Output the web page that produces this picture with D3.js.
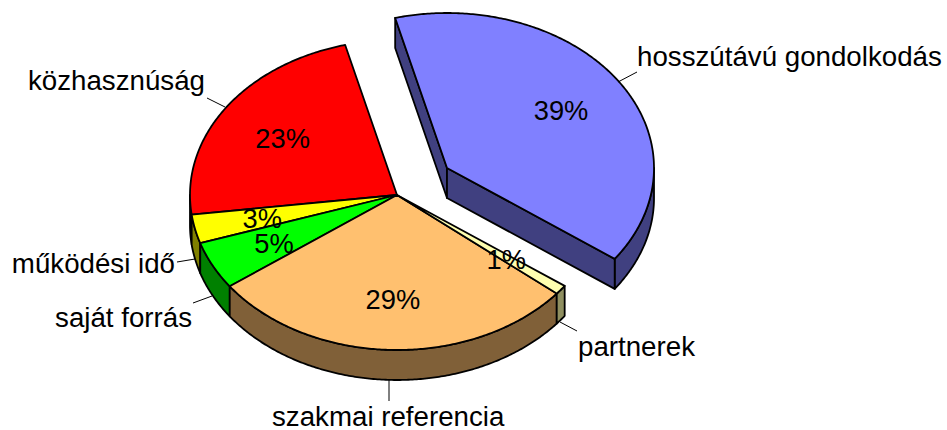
<!DOCTYPE html>
<html><head><meta charset="utf-8">
<script src="https://cdn.jsdelivr.net/npm/d3@7"></script>
<style>html,body{margin:0;padding:0;background:#fff}svg{display:block}text{font-family:"Liberation Sans",Arial,sans-serif;fill:#000}</style>
</head><body><svg id="c" width="947" height="430"></svg>
<script>
const categories = ["hosszútávú gondolkodás","partnerek","szakmai referencia","saját forrás","működési idő","közhasznúság"];
const values = [39,1,29,5,3,23];
const topColors = ["#8080ff","#ffffb0","#ffc06f","#00ff00","#ffff00","#ff0000"];
const sideColors = ["#404080","#8f8f60","#806038","#008000","#808000","#800000"];
const exploded = [true,false,false,false,false,false];
// layout
const cx=397, cy=195, rx=207, ry=155, depth=30, explodeX=50, explodeY=-27;
const labelSize=27.7, pctSize=27.3, startDeg=-14.5;
const labelLayout = [
 {x:637,y:66,anchor:"start",lx:637,ly:72,ex:618,ey:82},
 {x:578,y:356,anchor:"start",lx:577,ly:331,ex:560,ey:322},
 {x:272,y:426,anchor:"start",lx:389,ly:401,ex:389,ey:380},
 {x:192,y:327,anchor:"end",lx:193,ly:303,ex:212,ey:296},
 {x:175,y:273,anchor:"end",lx:177,ly:262,ex:195,ey:259},
 {x:205,y:90,anchor:"end",lx:207,ly:98,ex:225,ey:107}
];
const svg=d3.select("#c");
const pie=d3.pie().sort(null).startAngle(startDeg*Math.PI/180).endAngle((startDeg+360)*Math.PI/180);
const arcs=pie(values);
const xs=d3.scaleLinear().domain([-1,1]).range([-rx,rx]);
const ys=d3.scaleLinear().domain([-1,1]).range([-ry,ry]);
const pt=(a,r=1)=>[xs(r*Math.sin(a)),ys(-r*Math.cos(a))];
const line=d3.line();
const samples=(a0,a1)=>{const n=Math.max(2,Math.ceil(Math.abs(a1-a0)/0.01));return d3.range(n+1).map(i=>pt(a0+(a1-a0)*i/n));};
const origin=i=>exploded[i]?[cx+explodeX,cy+explodeY]:[cx,cy];
const stroke={stroke:"#000","stroke-width":1.8,"stroke-linejoin":"round"};
function draw(g,pts,fill){
  const p=g.append("path").attr("d",line(pts)+"Z").attr("fill",fill);
  Object.entries(stroke).forEach(([k,v])=>p.attr(k,v));
}
const TAU=2*Math.PI;
function rimParts(a0,a1){
  const parts=[];
  for(const k of [-1,0,1]){
    const lo=Math.max(a0,Math.PI/2+k*TAU), hi=Math.min(a1,3*Math.PI/2+k*TAU);
    if(hi>lo) parts.push([lo,hi]);
  }
  return parts;
}
const chart=svg.append("g");
function drawSlice(i,d){
  const g=chart.append("g").attr("transform",`translate(${origin(i)})`);
  rimParts(d.startAngle,d.endAngle).forEach(([lo,hi])=>{
    const top=samples(lo,hi);
    const bot=top.slice().reverse().map(([x,y])=>[x,y+depth]);
    draw(g,top.concat(bot),sideColors[i]);
  });
  if(exploded[i]){
    [d.startAngle,d.endAngle].forEach(a=>{
      const e=pt(a);
      draw(g,[[0,0],e,[e[0],e[1]+depth],[0,depth]],sideColors[i]);
    });
  }
}
function drawTop(i,d){
  const g=chart.append("g").attr("transform",`translate(${origin(i)})`);
  draw(g,[[0,0]].concat(samples(d.startAngle,d.endAngle)),topColors[i]);
}
const order=[5,4,3,2,1];
order.forEach(i=>{if(!exploded[i])drawSlice(i,arcs[i]);});
order.forEach(i=>{if(!exploded[i])drawTop(i,arcs[i]);});
drawSlice(0,arcs[0]);drawTop(0,arcs[0]);
labelLayout.forEach(l=>{
  svg.append("line").attr("x1",l.lx).attr("y1",l.ly).attr("x2",l.ex).attr("y2",l.ey).attr("stroke","#000").attr("stroke-width",1);
});
const total=d3.sum(values);
arcs.forEach((d,i)=>{
  const m=(d.startAngle+d.endAngle)/2,[x,y]=pt(m,0.667),o=origin(i);
  svg.append("text").attr("x",o[0]+x).attr("y",o[1]+y+10.5).attr("text-anchor","middle").attr("font-size",pctSize)
    .text(d3.format(".0%")(values[i]/total));
});
categories.forEach((c,i)=>{
  const l=labelLayout[i];
  svg.append("text").attr("x",l.x).attr("y",l.y).attr("text-anchor",l.anchor).attr("font-size",labelSize).text(c);
});
</script></body></html>
